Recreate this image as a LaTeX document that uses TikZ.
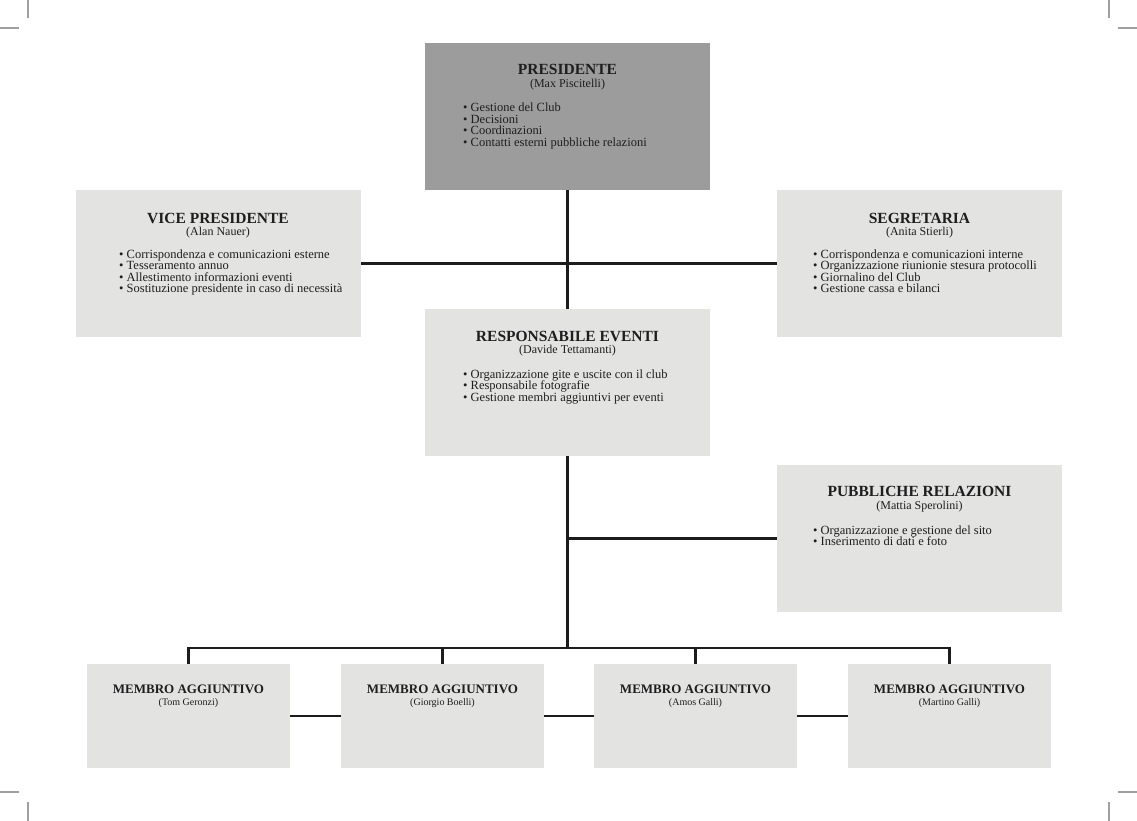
\documentclass[tikz,border=0pt]{standalone}
\usepackage{fontspec}
\setmainfont{Liberation Serif}
\definecolor{boxgray}{HTML}{E3E3E2}
\definecolor{darkgray}{HTML}{9C9C9C}
\definecolor{linecol}{HTML}{1C1C1C}
\definecolor{cropgray}{HTML}{A0A0A0}
\definecolor{textcol}{HTML}{1E1E1E}
\begin{document}
\begin{tikzpicture}[x=1pt,y=-1pt,
  box/.style={fill=boxgray,anchor=north west,inner sep=0pt,outer sep=0pt,minimum width=285pt,minimum height=147pt},
  darkbox/.style={box,fill=darkgray},
  smallbox/.style={box,minimum width=203pt,minimum height=104pt},
  ttl/.style={anchor=base,inner sep=0pt,text=textcol,font=\fontsize{15.5}{15.5}\selectfont\bfseries},
  sub/.style={anchor=base,inner sep=0pt,text=textcol,font=\fontsize{12}{12}\selectfont},
  item/.style={anchor=base west,inner sep=0pt,text=textcol,font=\fontsize{12.5}{12.5}\selectfont},
  sttl/.style={anchor=base,inner sep=0pt,text=textcol,font=\fontsize{13}{13}\selectfont\bfseries},
  ssub/.style={anchor=base,inner sep=0pt,text=textcol,font=\fontsize{10}{10}\selectfont},
  conn/.style={draw=linecol,line width=2.8pt},
  crop/.style={draw=cropgray,line width=1.2pt}]
\useasboundingbox (0,0) rectangle (1137,821);
\fill[white] (0,0) rectangle (1137,821);
% crop marks
\draw[crop] (28,0) -- (28,18);
\draw[crop] (0,28) -- (19,28);
\draw[crop] (1109,0) -- (1109,18);
\draw[crop] (1118,28) -- (1137,28);
\draw[crop] (0,792) -- (19,792);
\draw[crop] (28,802) -- (28,821);
\draw[crop] (1118,792) -- (1137,792);
\draw[crop] (1109,802) -- (1109,821);
% boxes
\node[darkbox] (pres) at (425,43) {};
\node[box] (vice) at (76,190) {};
\node[box] (segr) at (777,190) {};
\node[box] (resp) at (425,309) {};
\node[box] (pubb) at (777,465) {};
\node[smallbox] (m1) at (87,664) {};
\node[smallbox] (m2) at (341,664) {};
\node[smallbox] (m3) at (594,664) {};
\node[smallbox] (m4) at (848,664) {};
% connectors
\coordinate (bus) at (567.5,648);
\draw[conn] (pres.south) -- (resp.north);
\draw[conn] (vice.east) -- (segr.west);
\draw[conn] (resp.south) -- (bus);
\draw[conn] (pubb.west) -- (pubb.west -| resp.south);
\draw[conn,line join=miter] (m1.north) -- (m1.north |- bus) -- (m4.north |- bus) -- (m4.north);
\draw[conn] (m2.north) -- (m2.north |- bus);
\draw[conn] (m3.north) -- (m3.north |- bus);
\draw[conn] (m1.east) -- (m2.west);
\draw[conn] (m2.east) -- (m3.west);
\draw[conn] (m3.east) -- (m4.west);
% PRESIDENTE
\node[ttl] (pt) at (567.5,75) {PRESIDENTE};
\node[sub] (ps) at (567.5,88) {(Max Piscitelli)};
\node[item] (p1) at (463,112) {• Gestione del Club};
\node[item] (p2) at (463,123.5) {• Decisioni};
\node[item] (p3) at (463,135) {• Coordinazioni};
\node[item] (p4) at (463,146.5) {• Contatti esterni pubbliche relazioni};
% VICE PRESIDENTE
\node[ttl] (vt) at (218,223) {VICE PRESIDENTE};
\node[sub] (vs) at (218,235) {(Alan Nauer)};
\node[item] (v1) at (119,258) {• Corrispondenza e comunicazioni esterne};
\node[item] (v2) at (119,269.5) {• Tesseramento annuo};
\node[item] (v3) at (119,281) {• Allestimento informazioni eventi};
\node[item] (v4) at (119,292.5) {• Sostituzione presidente in caso di necessità};
% SEGRETARIA
\node[ttl] (st) at (919.5,223) {SEGRETARIA};
\node[sub] (ss) at (919.5,235) {(Anita Stierli)};
\node[item] (s1) at (813,258) {• Corrispondenza e comunicazioni interne};
\node[item] (s2) at (813,269.5) {• Organizzazione riunionie stesura protocolli};
\node[item] (s3) at (813,281) {• Giornalino del Club};
\node[item] (s4) at (813,292.5) {• Gestione cassa e bilanci};
% RESPONSABILE EVENTI
\node[ttl] (rt) at (567.5,341) {RESPONSABILE EVENTI};
\node[sub] (rs) at (567.5,353) {(Davide Tettamanti)};
\node[item] (r1) at (463,378) {• Organizzazione gite e uscite con il club};
\node[item] (r2) at (463,389.5) {• Responsabile fotografie};
\node[item] (r3) at (463,401) {• Gestione membri aggiuntivi per eventi};
% PUBBLICHE RELAZIONI
\node[ttl] (bt) at (919.5,496) {PUBBLICHE RELAZIONI};
\node[sub] (bs) at (919.5,509) {(Mattia Sperolini)};
\node[item] (b1) at (813,534) {• Organizzazione e gestione del sito};
\node[item] (b2) at (813,545.5) {• Inserimento di dati e foto};
% MEMBRI
\node[sttl] (m1t) at (188.5,693) {MEMBRO AGGIUNTIVO};
\node[ssub] (m1s) at (188.5,705) {(Tom Geronzi)};
\node[sttl] (m2t) at (442.5,693) {MEMBRO AGGIUNTIVO};
\node[ssub] (m2s) at (442.5,705) {(Giorgio Boelli)};
\node[sttl] (m3t) at (695.5,693) {MEMBRO AGGIUNTIVO};
\node[ssub] (m3s) at (695.5,705) {(Amos Galli)};
\node[sttl] (m4t) at (949.5,693) {MEMBRO AGGIUNTIVO};
\node[ssub] (m4s) at (949.5,705) {(Martino Galli)};
\end{tikzpicture}
\end{document}
